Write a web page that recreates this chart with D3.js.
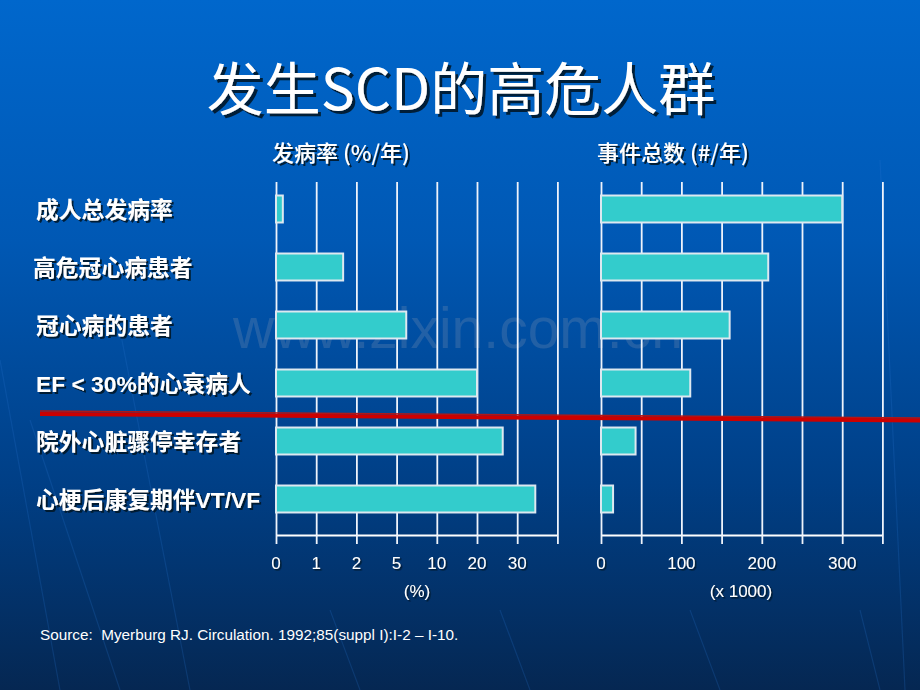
<!DOCTYPE html>
<html><head><meta charset="utf-8">
<script src="https://cdn.jsdelivr.net/npm/d3@7/dist/d3.min.js"></script>
<style>html,body{margin:0;padding:0;background:#063a7a;}svg{display:block;}</style>
</head><body>
<svg id="chart" width="920" height="690"></svg>
<script>
const title = "发生SCD的高危人群";
const categories = ["成人总发病率","高危冠心病患者","冠心病的患者","EF < 30%的心衰病人","院外心脏骤停幸存者","心梗后康复期伴VT/VF"];
const incidence = [0.17, 1.67, 6.2, 20, 26.4, 34.5];       // %/year
const events = [300, 208, 160, 111, 43, 15];               // x1000 per year
const leftTicks = [0, 1, 2, 5, 10, 20, 30, 40];
const leftTickLabels = ["0","1","2","5","10","20","30",""];
const rightTicks = [0, 50, 100, 150, 200, 250, 300, 350];
const rightTickLabels = ["0","","100","","200","","300",""];
const leftTitle = "发病率 (%/年)";
const rightTitle = "事件总数 (#/年)";
const leftUnit = "(%)";
const rightUnit = "(x 1000)";
const source = "Source:  Myerburg RJ. Circulation. 1992;85(suppl I):I-2 \u2013 I-10.";
const watermark = "www.zixin.com.cn";

const svg = d3.select("#chart");
const W = 920, H = 690;
const defs = svg.append("defs");
const bg = defs.append("linearGradient").attr("id","bg").attr("x1",0).attr("y1",0).attr("x2",0).attr("y2",1);
bg.append("stop").attr("offset","0%").attr("stop-color","#0067cc");
bg.append("stop").attr("offset","35%").attr("stop-color","#0058b4");
bg.append("stop").attr("offset","70%").attr("stop-color","#003f86");
bg.append("stop").attr("offset","100%").attr("stop-color","#052752");
svg.append("rect").attr("width",W).attr("height",H).attr("fill","url(#bg)");

function makeShadow(id, d){
  defs.append("filter").attr("id",id).attr("x","-10%").attr("y","-30%").attr("width","130%").attr("height","170%")
    .append("feDropShadow").attr("dx",d).attr("dy",d).attr("stdDeviation",0.4)
    .attr("flood-color","#06142b").attr("flood-opacity",0.9);
}
makeShadow("sh3", 3); makeShadow("sh2", 2); makeShadow("sh15", 1.5);

// faint background texture lines
const tex = svg.append("g").attr("stroke","#2a78d0").attr("stroke-opacity",0.22).attr("fill","none").attr("stroke-width",1.2);
[[0,360,60,690],[30,420,120,690],[120,330,190,690],[330,610,360,690],[500,610,530,690],[690,610,720,690],[860,610,880,690],[880,160,905,690]].forEach(p=>{
  tex.append("line").attr("x1",p[0]).attr("y1",p[1]).attr("x2",p[2]).attr("y2",p[3]);
});

function sText(g, x, y, txt, o){
  o = Object.assign({size:16, anchor:"start", weight:"normal", family:"'Liberation Sans', Arial, 'Noto Sans CJK SC', sans-serif", filter:"sh2"}, o||{});
  return g.append("text").attr("x",x).attr("y",y).attr("font-size",o.size).attr("font-family",o.family)
    .attr("font-weight",o.weight).attr("text-anchor",o.anchor).attr("fill","#ffffff")
    .attr("filter",`url(#${o.filter})`).text(txt);
}

// watermark
svg.append("text").attr("x",458).attr("y",348).attr("text-anchor","middle")
  .attr("font-family","'Liberation Sans', Arial, sans-serif").attr("font-size",57)
  .attr("fill","#9aa6b8").attr("fill-opacity",0.22).text(watermark);

// title
sText(svg, 461, 110, title, {size:57, anchor:"middle", family:"'Noto Sans CJK SC','Liberation Sans',sans-serif", filter:"sh3"});

// scales
const y = d3.scaleBand().domain(categories).range([180, 528]).paddingInner(0.535).paddingOuter(0.2675);
const xL = d3.scaleLinear().domain(leftTicks).range(leftTicks.map((d,i)=>276 + i*40.2));
const xR = d3.scaleLinear().domain([0,350]).range([601, 882.4]);
const axisY = 535, gridTop = 182;

function panel(x, ticks, labels, values, ttl, unit, unitX){
  const g = svg.append("g");
  const grid = g.append("g").attr("transform",`translate(0,${axisY})`)
    .call(d3.axisBottom(x).tickValues(ticks).tickSize(-(axisY-gridTop)).tickFormat(""));
  grid.select(".domain").remove();
  grid.selectAll(".tick line").attr("stroke","#eef3fb").attr("stroke-width",1.8);
  const ax = g.append("g").attr("transform",`translate(0,${axisY})`)
    .call(d3.axisBottom(x).tickValues(ticks).tickSizeInner(9).tickSizeOuter(0).tickFormat(""));
  ax.select(".domain").attr("stroke","#ffffff").attr("stroke-width",1.8);
  ax.selectAll(".tick line").attr("stroke","#eef3fb").attr("stroke-width",1.8);
  g.selectAll("rect.bar").data(values).join("rect").attr("class","bar")
    .attr("x", x(0)).attr("y",(d,i)=>y(categories[i]))
    .attr("width", d=>x(d)-x(0)).attr("height", y.bandwidth())
    .attr("fill","#33cccc").attr("stroke","#dde8f0").attr("stroke-width",2);
  ticks.forEach((t,i)=>{ if(labels[i]) sText(g, x(t), 569, labels[i], {size:17, anchor:"middle", filter:"sh15"}); });
  sText(g, unitX, 597, unit, {size:17, anchor:"middle", filter:"sh15"});
  sText(g, x(0)-4, 161, ttl, {size:22, family:"'Noto Sans CJK SC','Liberation Sans',sans-serif", weight:500});
}
panel(xL, leftTicks, leftTickLabels, incidence, leftTitle, leftUnit, 417);
panel(xR, rightTicks, rightTickLabels, events, rightTitle, rightUnit, 741);

// row labels
const lab = svg.append("g");
categories.forEach((c,i)=>{
  sText(lab, i===1?33:36, y(c)+y.bandwidth()/2+8.5, c, {size:22.8, family:"'Liberation Sans','Noto Sans CJK SC',sans-serif", weight:"bold"});
});

// red line
svg.append("line").attr("x1",40).attr("y1",411).attr("x2",920).attr("y2",418).attr("stroke","#b01818").attr("stroke-width",1.5);
svg.append("line").attr("x1",40).attr("y1",414).attr("x2",920).attr("y2",420.5).attr("stroke","#cc0000").attr("stroke-width",4);

// source
svg.append("text").attr("x",40).attr("y",640).attr("font-size",15.3).attr("font-family","'Liberation Sans', Arial, sans-serif")
  .attr("xml:space","preserve").style("white-space","pre")
  .attr("fill","#ffffff").text(source);
</script>
</body></html>
